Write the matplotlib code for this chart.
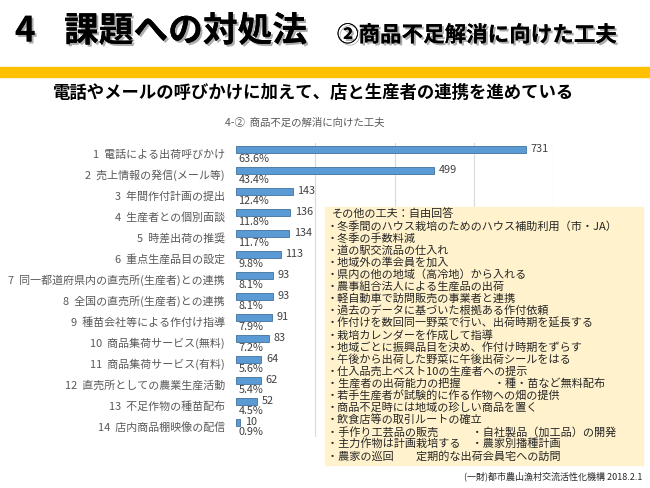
import matplotlib
matplotlib.use("Agg")
import matplotlib.pyplot as plt
import matplotlib.patheffects as pe
from matplotlib.patches import Rectangle
import numpy as np

plt.rcParams['font.family'] = ['Noto Sans CJK JP', 'DejaVu Sans']

# データ
labels = ["電話による出荷呼びかけ", "売上情報の発信(メール等)", "年間作付計画の提出",
          "生産者との個別面談", "時差出荷の推奨", "重点生産品目の設定",
          "同一都道府県内の直売所(生産者)との連携", "全国の直売所(生産者)との連携",
          "種苗会社等による作付け指導", "商品集荷サービス(無料)", "商品集荷サービス(有料)",
          "直売所としての農業生産活動", "不足作物の種苗配布", "店内商品棚映像の配信"]
counts = [731, 499, 143, 136, 134, 113, 93, 93, 91, 83, 64, 62, 52, 10]
pcts = [63.6, 43.4, 12.4, 11.8, 11.7, 9.8, 8.1, 8.1, 7.9, 7.2, 5.6, 5.4, 4.5, 0.9]

other_title = "その他の工夫：自由回答"
other_items = ["冬季間のハウス栽培のためのハウス補助利用（市・JA）",
               "冬季の手数料減",
               "道の駅交流品の仕入れ",
               "地域外の準会員を加入",
               "県内の他の地域（高冷地）から入れる",
               "農事組合法人による生産品の出荷",
               "軽自動車で訪問販売の事業者と連携",
               "過去のデータに基づいた根拠ある作付依頼",
               "作付けを数回同一野菜で行い、出荷時期を延長する",
               "栽培カレンダーを作成して指導",
               "地域ごとに振興品目を決め、作付け時期をずらす",
               "午後から出荷した野菜に午後出荷シールをはる",
               "仕入品売上ベスト10の生産者への提示",
               "生産者の出荷能力の把握　　　・種・苗など無料配布",
               "若手生産者が試験的に作る作物への畑の提供",
               "商品不足時には地域の珍しい商品を置く",
               "飲食店等の取引ルートの確立",
               "手作り工芸品の販売　　　・自社製品（加工品）の開発",
               "主力作物は計画栽培する　・農家別播種計画",
               "農家の巡回　　定期的な出荷会員宅への訪問"]

W, H = 650, 488
fig = plt.figure(figsize=(6.5, 4.88), dpi=100)

# ヘッダー
shadow = [pe.withSimplePatchShadow(offset=(1.5, -1.5), shadow_rgbFace='#999999', alpha=0.8), pe.Normal()]
fig.text(15 / W, 1 - 31 / H, "4", fontsize=25, fontweight='bold', va='center', ha='left', path_effects=shadow)
fig.text(64 / W, 1 - 31 / H, "課題への対処法", fontsize=25, fontweight='bold', va='center', ha='left', path_effects=shadow)
fig.text(337 / W, 1 - 35 / H, "②商品不足解消に向けた工夫", fontsize=15.5, fontweight='bold', va='center', ha='left',
         path_effects=shadow)
fig.patches.append(Rectangle((0, 1 - 77 / H), 1, 10 / H, transform=fig.transFigure, color='#FFC000', zorder=0))
fig.text(53 / W, 1 - 93 / H, "電話やメールの呼びかけに加えて、店と生産者の連携を進めている",
         fontsize=12.5, fontweight='bold', va='center', ha='left')

# グラフ
ax = fig.add_axes([236 / W, 1 - 437 / H, (553 - 236) / W, (437 - 143) / H])
y = np.arange(len(labels))
ax.barh(y - 0.2, counts, height=0.34, color='#5B9BD5', edgecolor='#41719C', linewidth=0.6, zorder=3)
for yi, c, p in zip(y, counts, pcts):
    ax.text(c + 12, yi - 0.22, str(c), fontsize=7.8, color='#404040', va='center', ha='left')
    ax.text(6, yi + 0.24, f"{p}%", fontsize=7.8, color='#404040', va='center', ha='left')

ax.set_xlim(0, 800)
ax.set_ylim(len(labels) - 0.5, -0.5)
ax.set_xticks([200, 400, 600, 800])
ax.xaxis.grid(True, color='#D9D9D9', linewidth=0.8, zorder=0)
ax.tick_params(axis='x', length=0, labelbottom=False)
ax.set_yticks(y)
ax.set_yticklabels([f"{i + 1}  {t}" for i, t in enumerate(labels)], fontsize=7.9, color='#595959')
ax.tick_params(axis='y', length=0, pad=8)
for s in ax.spines.values():
    s.set_visible(False)

fig.text(305 / W, 1 - 123 / H, "4-②  商品不足の解消に向けた工夫", fontsize=7.5, color='#595959',
         ha='center', va='center')

# その他の工夫ボックス
fig.patches.append(Rectangle((325 / W, 1 - 465 / H), (643 - 325) / W, (465 - 207) / H,
                             transform=fig.transFigure, color='#FFF2CC', zorder=5))
lines = [other_title] + ["・" + t for t in other_items]
for i, t in enumerate(lines):
    x0 = 332 if i == 0 else 327
    fig.text(x0 / W, 1 - (214 + i * 12.1) / H, t, fontsize=8, color='#262626', va='center', ha='left', zorder=6)

fig.text(642 / W, 1 - 476 / H, "(一財)都市農山漁村交流活性化機構 2018.2.1", fontsize=6.5, color='#262626',
         ha='right', va='center')

fig.savefig("out.png", dpi=100)
